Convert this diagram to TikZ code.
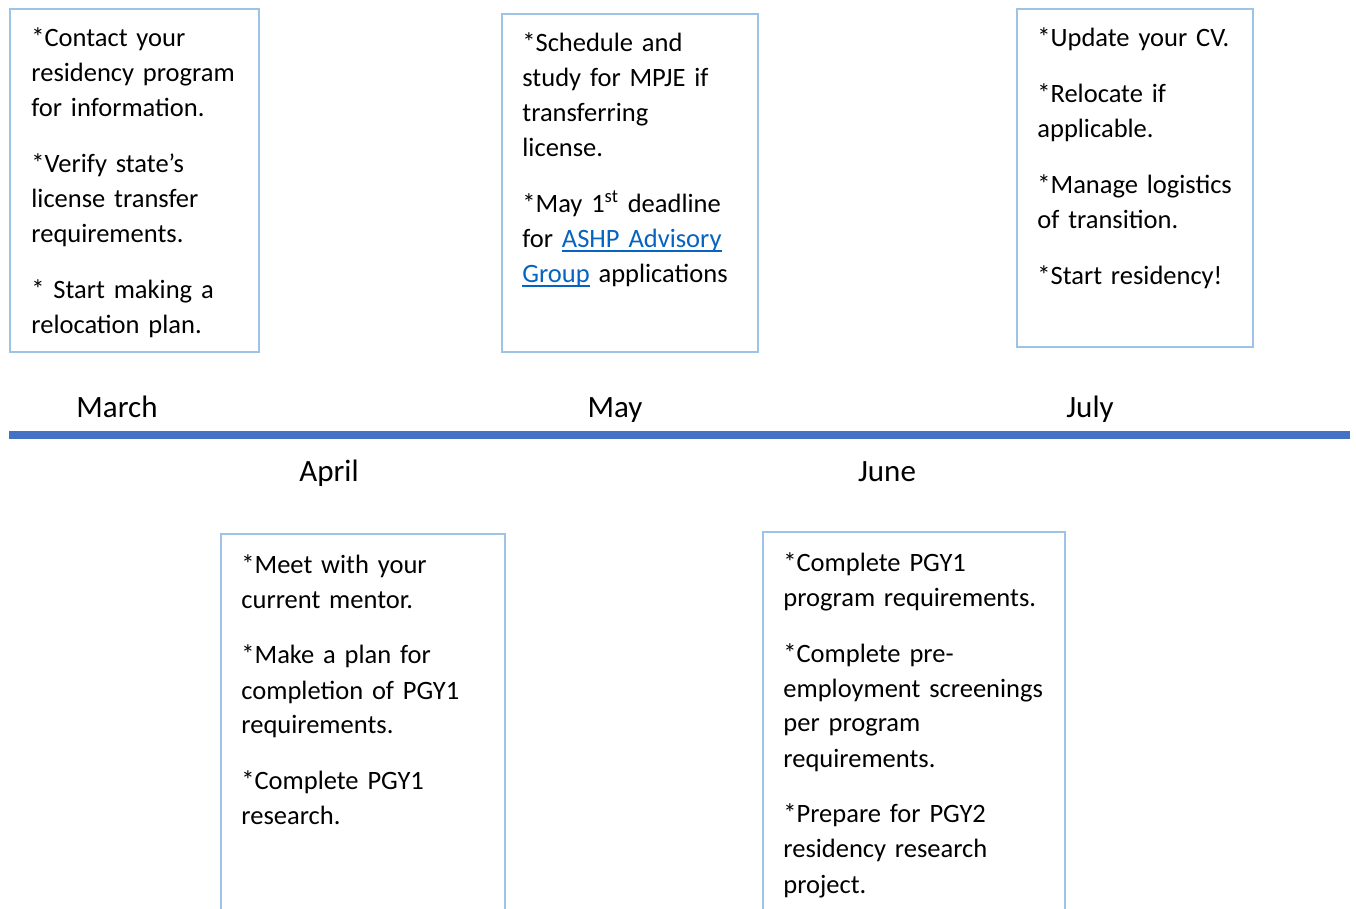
\documentclass[tikz,border=0pt]{standalone}
\usepackage{fontspec}
\setmainfont{Carlito}
\usepackage{xcolor}
\definecolor{lineblue}{HTML}{4472C4}
\definecolor{boxblue}{HTML}{9DC3E6}
\definecolor{linkblue}{HTML}{0563C1}
\newcommand{\weblink}[1]{\textcolor{linkblue}{\setbox0\hbox{#1}\rlap{\rule[-1.8pt]{\wd0}{0.8pt}}\box0}}

\begin{document}
\begin{tikzpicture}[x=0.5pt,y=-0.5pt,
  boxline/.style={draw=boxblue,line width=1pt},
  note/.style={anchor=base west,inner sep=0pt,text width=140pt,align=left,
    font=\fontsize{13.25pt}{17.5pt}\selectfont},
  month/.style={anchor=base,inner sep=0pt,font=\fontsize{15.5pt}{18pt}\selectfont}]

\useasboundingbox (0,0) rectangle (1356,909);

% --- Timeline ---
\coordinate (tlstart) at (9,435.5);
\coordinate (tlend) at (1350,435.5);
\draw[lineblue,line width=4pt] (tlstart) -- (tlend);

\node[month] (march) at (117,417) {March};
\node[month] (may) at (615,417) {May};
\node[month] (july) at (1090,417) {July};
\node[month] (april) at (329,481) {April};
\node[month] (june) at (887,481) {June};

% --- Boxes above the line ---
% March
\draw[boxline] (10,9) rectangle (259,352);
\node[note] (marchtxt) at (31,47) {*Contact your\\residency program\\for information.\\[10.5pt]
  *Verify state’s\\license transfer\\requirements.\\[10.5pt]
  * Start making a\\relocation plan.};

% May
\draw[boxline] (502,14) rectangle (758,352);
\node[note] (maytxt) at (522,52) {*Schedule and\\study for MPJE if\\transferring\\license.\\[10.5pt]
  *May 1\textsuperscript{st} deadline\\for \weblink{ASHP Advisory}\\\weblink{Group} applications};

% July
\draw[boxline] (1017,9) rectangle (1253,347);
\node[note] (julytxt) at (1037,47) {*Update your CV.\\[10.5pt]
  *Relocate if\\applicable.\\[10.5pt]
  *Manage logistics\\of transition.\\[10.5pt]
  *Start residency!};

% --- Boxes below the line (cut at the bottom) ---
% April
\draw[boxline] (221,914) |- (505,534) -- (505,914);
\node[note] (apriltxt) at (241,573) {*Meet with your\\current mentor.\\[10.5pt]
  *Make a plan for\\completion of PGY1\\requirements.\\[10.5pt]
  *Complete PGY1\\research.};

% June
\draw[boxline] (763,914) |- (1065,532) -- (1065,914);
\node[note] (junetxt) at (783,571) {*Complete PGY1\\program requirements.\\[10.5pt]
  *Complete pre-\\employment screenings\\per program\\requirements.\\[10.5pt]
  *Prepare for PGY2\\residency research\\project.};

\end{tikzpicture}
\end{document}
